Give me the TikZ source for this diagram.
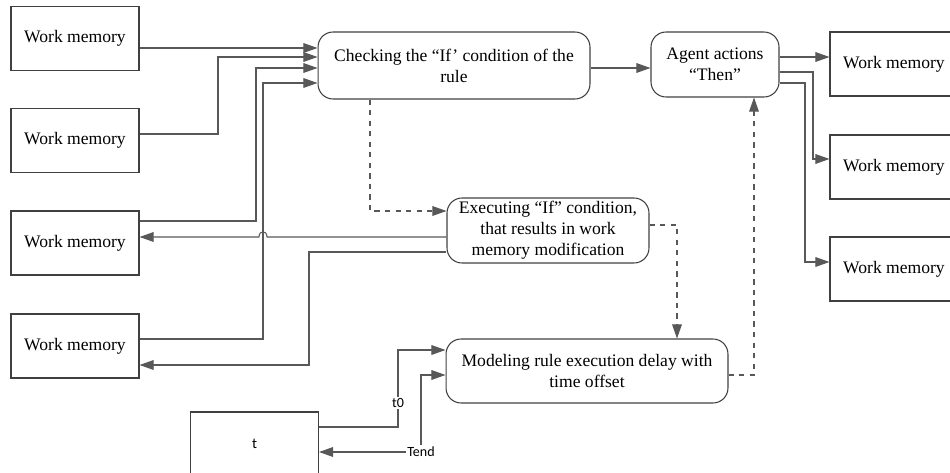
\documentclass[tikz,border=0pt]{standalone}
\usepackage{fontspec}
\setmainfont{Liberation Serif}
\newfontfamily\lblfont{Carlito}
\usetikzlibrary{arrows.meta}
\definecolor{edg}{RGB}{88, 88, 88}
\definecolor{brd}{RGB}{64, 64, 64}

\begin{document}
\begin{tikzpicture}[x=0.02cm, y=-0.02cm,
    wm/.style={draw=brd, line width=0.6pt, minimum width=2.56cm, minimum height=1.28cm, inner sep=0pt, font=\fontsize{10}{12}\selectfont},
    rl/.style={draw=brd, line width=0.6pt, rounded corners=0.3cm, align=center, inner sep=0pt, font=\fontsize{10}{12}\selectfont},
    arr/.style={draw=edg, line width=0.6pt, -{Triangle[length=8pt,width=5.5pt]}},
    dsh/.style={arr, dashed},
    lbl/.style={fill=white, inner sep=1pt, font=\lblfont\fontsize{8}{10}\selectfont}]
      \clip (0,0) rectangle (950,473);
      % working memory, left
      \node[wm] (wm1) at (75, 38.5) {Work memory};
      \node[wm] (wm2) at (75, 140.5) {Work memory};
      \node[wm] (wm3) at (75, 243) {Work memory};
      \node[wm] (wm4) at (75, 346) {Work memory};
      % rule blocks
      \node[rl, minimum width=5.44cm, minimum height=1.34cm] (chk) at (454, 65.5) {Checking the “If’ condition of the\\rule};
      \node[rl, minimum width=2.56cm, minimum height=1.3cm] (agent) at (715, 64.5) {Agent actions\\“Then”};
      \node[rl, minimum width=4.04cm, minimum height=1.3cm] (exe) at (548, 230.5) {Executing “If” condition,\\that results in work\\memory modification};
      \node[rl, minimum width=5.64cm, minimum height=1.28cm] (model) at (587, 371) {Modeling rule execution delay with\\time offset};
      % working memory, right
      \node[wm] (rwm1) at (894, 64) {Work memory};
      \node[wm] (rwm2) at (894, 167) {Work memory};
      \node[wm] (rwm3) at (894, 269) {Work memory};
      \node[wm, font=\lblfont\fontsize{8.5}{10}\selectfont] (tbox) at (254.5, 444) {t};

      \draw[arr] (wm1.east |- 0,48) -- (chk.west |- 0,48);
      \draw[arr] (wm2.east |- 0,134) -| (218,57) -- (chk.west |- 0,57);
      \draw[arr] (wm3.east |- 0,221) -| (256,68) -- (chk.west |- 0,68);
      \draw[arr] (wm4.east |- 0,339) -| (263,83) -- (chk.west |- 0,83);
      \draw[arr] (exe.west |- 0,237) -- (267,237) .. controls (267,230) and (259,230) .. (259,237) -- (wm3.east |- 0,237);
      \draw[arr] (exe.west |- 0,252) -| (309,365) -- (wm4.east |- 0,365);
      \draw[dsh] (chk.south -| 370,0) |- (exe.west |- 0,211);
      \draw[dsh] (exe.east |- 0,225) -| (model.north -| 677,0);
      \draw[dsh] (model.east |- 0,375) -| (agent.south -| 754,0);
      \draw[arr] (chk.east |- 0,68) -- (agent.west |- 0,68);
      \draw[arr] (agent.east |- 0,57) -- (rwm1.west |- 0,57);
      \draw[arr] (agent.east |- 0,72) -| (813,159) -- (rwm2.west |- 0,159);
      \draw[arr] (agent.east |- 0,83) -| (805,262) -- (rwm3.west |- 0,262);
      \draw[arr] (tbox.east |- 0,427) -| (398,350) -- (model.west |- 0,350);
      \draw[arr, {Triangle[length=8pt,width=5.5pt]}-{Triangle[length=8pt,width=5.5pt]}] (model.west |- 0,375) -| (421,452) -- (tbox.east |- 0,452);
      \node[lbl] (tz) at (398, 403) {t0};
      \node[lbl] (te) at (421, 452) {Tend};
    \end{tikzpicture}
\end{document}
